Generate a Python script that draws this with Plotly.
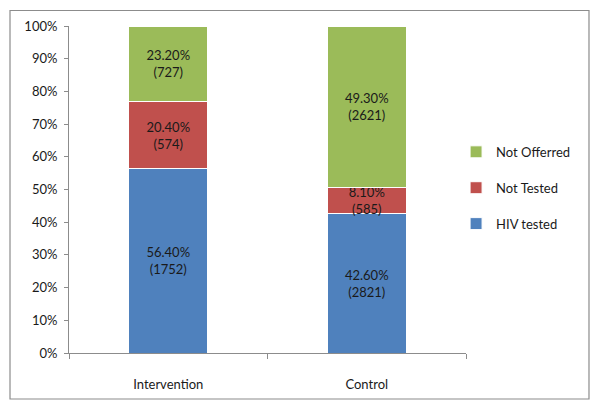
import plotly.graph_objects as go

categories = ["Intervention", "Control"]
series_names = ["HIV tested", "Not Tested", "Not Offerred"]
pct_hiv_tested = [56.4, 42.6]
pct_not_tested = [20.4, 8.1]
pct_not_offered = [23.2, 49.3]
n_hiv_tested = [1752, 2821]
n_not_tested = [574, 585]
n_not_offered = [727, 2621]
colors = ["#4F81BD", "#C0504D", "#9BBB59"]
y_ticks = [0, 10, 20, 30, 40, 50, 60, 70, 80, 90, 100]
y_tick_labels = [f"{v}%" for v in y_ticks]

FONT = "Lato, 'Open Sans', sans-serif"
pcts = [pct_hiv_tested, pct_not_tested, pct_not_offered]
counts = [n_hiv_tested, n_not_tested, n_not_offered]

fig = go.Figure()
for i, name in enumerate(series_names):
    labels = [f"{p:.2f}%<br>({c})" for p, c in zip(pcts[i], counts[i])]
    fig.add_trace(go.Bar(
        x=categories, y=pcts[i], name=name,
        marker=dict(color=colors[i], line=dict(color="white", width=1)),
        text=labels, textposition="inside", insidetextanchor="middle",
        textangle=0, textfont=dict(family=FONT, size=13, color="#1a1a1a"),
        cliponaxis=False, legendgroup=name, legendrank=3 - i, hoverinfo="skip",
    ))

# page body has an 8px margin; figure sized to fit the 600x412 window
fig.update_layout(
    barmode="stack", bargap=0.6,
    width=592, height=404,
    margin=dict(l=61, r=134, t=18, b=59, autoexpand=False),
    paper_bgcolor="white", plot_bgcolor="white",
    font=dict(family=FONT, size=13, color="#1a1a1a"),
    uniformtext=dict(minsize=13, mode="show"),
    legend=dict(x=0.975, xanchor="left", y=0.505, yanchor="middle",
                traceorder="grouped", tracegroupgap=16,
                font=dict(family=FONT, size=13, color="#1a1a1a"),
                bgcolor="rgba(0,0,0,0)"),
    showlegend=True,
    xaxis=dict(showline=True, linecolor="#8c8c8c", linewidth=1,
               ticks="outside", tickson="boundaries", ticklen=5, tickcolor="#8c8c8c",
               showgrid=False, ticklabelstandoff=19, fixedrange=True, automargin=False),
    yaxis=dict(range=[0, 100], tickvals=y_ticks, ticktext=y_tick_labels,
               showline=True, linecolor="#8c8c8c", linewidth=1,
               ticks="outside", ticklen=4, tickcolor="#8c8c8c",
               showgrid=False, zeroline=False, ticklabelstandoff=4, fixedrange=True,
               automargin=False),
    shapes=[dict(type="rect", xref="paper", yref="paper",
                 x0=-0.1486, x1=1.3098, y0=-0.1407, y1=1.0474,
                 line=dict(color="#8c8c8c", width=1.2), fillcolor="rgba(0,0,0,0)",
                 layer="below")],
)

fig.write_html("out.html", config=dict(displayModeBar=False))
